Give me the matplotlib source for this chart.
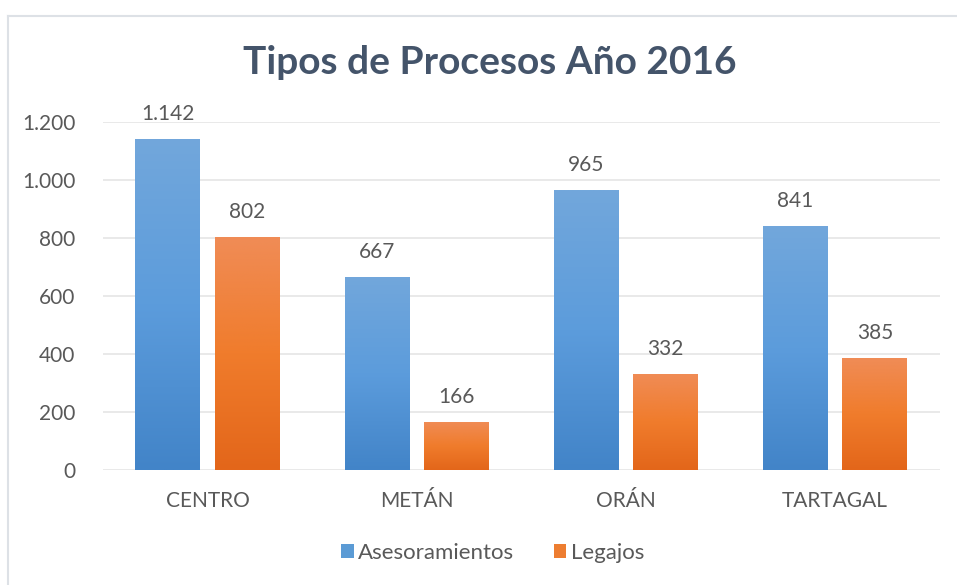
import numpy as np
import matplotlib
matplotlib.use("Agg")
import matplotlib.pyplot as plt
from matplotlib.colors import LinearSegmentedColormap
from matplotlib.lines import Line2D
from matplotlib.patches import Patch

categories = ["CENTRO", "METÁN", "ORÁN", "TARTAGAL"]
asesoramientos = [1142, 667, 965, 841]
legajos = [802, 166, 332, 385]
series_names = ["Asesoramientos", "Legajos"]
yticks = [0, 200, 400, 600, 800, 1000, 1200]

plt.rcParams['font.family'] = ['Lato', 'DejaVu Sans']

fig = plt.figure(figsize=(9.57, 5.85), dpi=100)
ax = fig.add_axes([0.1076, 0.1966, 0.8744, 0.5949])

x = np.arange(len(categories))
w = 0.31
gap = 0.07
blue_cmap = LinearSegmentedColormap.from_list("b", ["#4284C8", "#5C9CDC", "#72A7DB"])
orange_cmap = LinearSegmentedColormap.from_list("o", ["#E3661A", "#F07C2C", "#F08C56"])

def grad_bars(xs, vals, cmap, color):
    bars = ax.bar(xs, vals, width=w, color=color, edgecolor='none', zorder=2)
    grad = np.linspace(0, 1, 256).reshape(-1, 1)
    for b in bars:
        x0, y0 = b.get_x(), b.get_y()
        x1, y1 = x0 + b.get_width(), y0 + b.get_height()
        im = ax.imshow(grad, extent=[x0, x1, y0, y1], origin='lower', cmap=cmap,
                       aspect='auto', zorder=3)
        im.set_clip_path(b)
    return bars

def fmt(v):
    return f"{v:,}".replace(",", ".")

fs = 15
b1 = grad_bars(x - (w + gap) / 2, asesoramientos, blue_cmap, "#5B9BD5")
b2 = grad_bars(x + (w + gap) / 2, legajos, orange_cmap, "#ED7D31")
for bars, vals in ((b1, asesoramientos), (b2, legajos)):
    for b, v in zip(bars, vals):
        ax.annotate(fmt(v), (b.get_x() + b.get_width() / 2, v), xytext=(0, 18),
                    textcoords='offset points', ha='center', va='center',
                    fontsize=fs, color='#595959', zorder=4)

ax.set_xlim(-0.5, len(categories) - 0.5)
ax.set_ylim(0, 1200)
ax.set_yticks(yticks)
ax.set_yticklabels([fmt(t) for t in yticks])
ax.set_xticks(x)
ax.set_xticklabels(categories)
ax.tick_params(axis='both', length=0, labelsize=fs, labelcolor='#595959')
ax.tick_params(axis='y', pad=20)
ax.tick_params(axis='x', pad=15)
ax.yaxis.grid(True, color='#E3E3E3', linewidth=1.1, zorder=0)
ax.set_axisbelow(True)
for s in ax.spines.values():
    s.set_visible(False)

fig.text(0.512, 0.893, "Tipos de Procesos Año 2016", ha='center', va='center',
         fontsize=28, fontweight='bold', color='#44546A')

handles = [Patch(facecolor="#5B9BD5"), Patch(facecolor="#ED7D31")]
fig.legend(handles, series_names, loc='center', bbox_to_anchor=(0.515, 0.055),
           ncol=2, frameon=False, fontsize=16, labelcolor='#595959',
           handlelength=0.55, handleheight=0.55, handletextpad=0.2, columnspacing=1.8)

fig.add_artist(Line2D([8 / 957, 1.0], [1 - 16 / 585, 1 - 16 / 585],
                      transform=fig.transFigure, color='#DDE1E6', linewidth=1.5))
fig.add_artist(Line2D([8 / 957, 8 / 957], [0, 1 - 16 / 585],
                      transform=fig.transFigure, color='#DDE1E6', linewidth=1.5))

fig.savefig("out.png", dpi=100)
